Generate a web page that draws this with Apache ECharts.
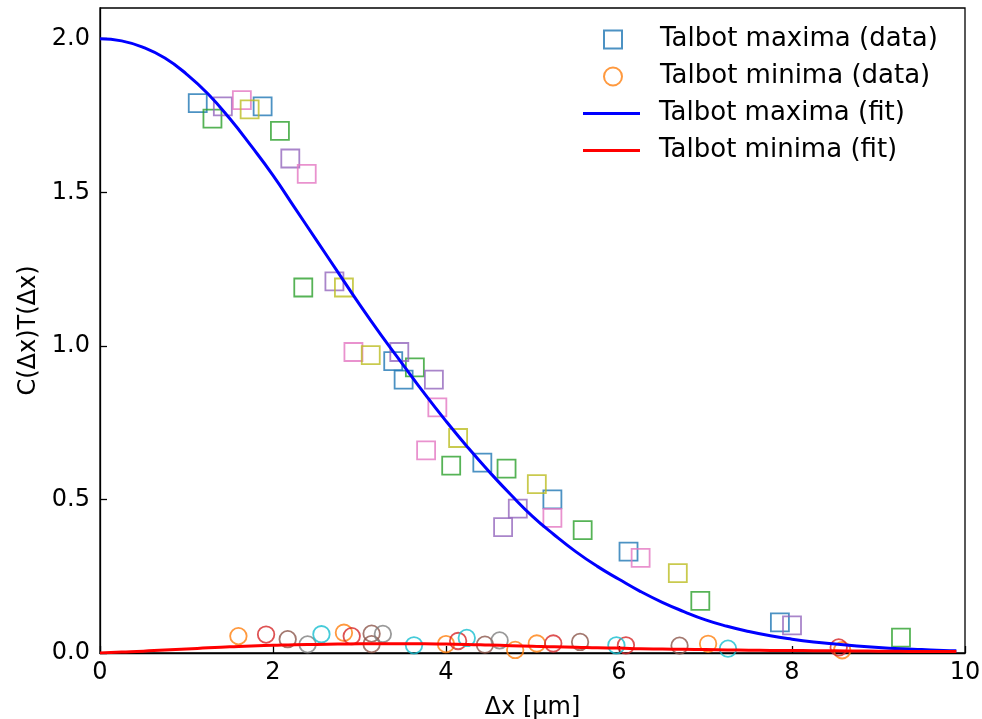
<!DOCTYPE html>
<html lang="en">

<head>
	<meta charset="UTF-8">
	<title>Talbot maxima / minima</title>
	<script src="https://cdn.jsdelivr.net/npm/echarts@6/dist/echarts.min.js"></script>
	<style>
		html, body { margin: 0; padding: 0; background: #fff; }
		#chart { width: 982px; height: 719px; }
	</style>
</head>

<body>
	<div id="chart"></div>
	<script>
		// measured points, one array per data set (x in um, y = C*T)
		var maxSet1 = [[1.13, 1.79], [1.88, 1.78], [3.39, 0.95], [3.51, 0.89], [4.42, 0.62], [5.23, 0.50], [6.11, 0.33], [7.86, 0.10]];
		var maxSet2 = [[1.30, 1.74], [2.08, 1.70], [2.35, 1.19], [3.64, 0.93], [4.06, 0.61], [4.70, 0.60], [5.58, 0.40], [6.94, 0.17], [9.26, 0.05]];
		var maxSet3 = [[1.42, 1.78], [2.20, 1.61], [2.71, 1.21], [3.46, 0.98], [3.86, 0.89], [4.83, 0.47], [4.66, 0.41], [8.00, 0.09]];
		var maxSet4 = [[1.64, 1.80], [2.39, 1.56], [2.93, 0.98], [3.90, 0.80], [3.77, 0.66], [5.23, 0.44], [6.25, 0.31]];
		var maxSet5 = [[1.73, 1.77], [2.82, 1.19], [3.13, 0.97], [4.14, 0.70], [5.05, 0.55], [6.68, 0.26]];

		var minSet1 = [[1.60, 0.055], [2.82, 0.066], [4.00, 0.029], [4.80, 0.010], [5.05, 0.031], [7.03, 0.030], [8.58, 0.009]];
		var minSet2 = [[1.92, 0.060], [2.91, 0.055], [4.14, 0.039], [5.24, 0.031], [6.08, 0.025], [8.54, 0.018]];
		var minSet3 = [[2.17, 0.045], [3.14, 0.063], [3.14, 0.029], [4.45, 0.027], [5.55, 0.036], [6.70, 0.024]];
		var minSet4 = [[2.40, 0.028], [3.27, 0.062], [3.45, -0.008], [4.62, 0.041]];
		var minSet5 = [[2.56, 0.061], [3.63, 0.025], [4.24, 0.049], [5.97, 0.025], [7.26, 0.014]];

		// fit curves
		var fitX = [0, 0.25, 0.5, 0.75, 1, 1.25, 1.5, 1.75, 2, 2.25, 2.5, 2.75, 3, 3.25, 3.5, 3.75, 4, 4.25, 4.5, 4.75,
			5, 5.25, 5.5, 5.75, 6, 6.25, 6.5, 6.75, 7, 7.25, 7.5, 7.75, 8, 8.25, 8.5, 8.75, 9, 9.25, 9.5, 9.75, 9.9];
		var fitMaxY = [2.0, 1.993, 1.972, 1.937, 1.885, 1.82, 1.74, 1.65, 1.555, 1.45, 1.345, 1.24, 1.135, 1.035, 0.94, 0.845,
			0.755, 0.67, 0.59, 0.515, 0.445, 0.385, 0.33, 0.282, 0.24, 0.2, 0.165, 0.135, 0.108, 0.087, 0.07, 0.056,
			0.045, 0.036, 0.029, 0.023, 0.018, 0.014, 0.011, 0.008, 0.007];
		var fitMinY = [0, 0.003, 0.006, 0.010, 0.013, 0.017, 0.020, 0.023, 0.025, 0.027, 0.028, 0.029, 0.030, 0.030, 0.030, 0.030,
			0.029, 0.028, 0.026, 0.024, 0.022, 0.020, 0.019, 0.017, 0.016, 0.014, 0.013, 0.012, 0.011, 0.010, 0.009, 0.0085,
			0.008, 0.0075, 0.007, 0.0065, 0.006, 0.0055, 0.005, 0.005, 0.005];

		var xTicks = [0, 2, 4, 6, 8, 10];

		var maxColors = ['#1f77b4', '#2ca02c', '#9467bd', '#e377c2', '#bcbd22'];
		var minColors = ['#ff7f0e', '#d62728', '#8c564b', '#7f7f7f', '#17becf'];

		var maxSets = [maxSet1, maxSet2, maxSet3, maxSet4, maxSet5];
		var minSets = [minSet1, minSet2, minSet3, minSet4, minSet5];

		var font = 'DejaVu Sans';

		function zip(xs, ys) {
			return xs.map(function (x, i) { return [x, ys[i]]; });
		}

		var series = [];
		for (var i = 0; i < 5; i++) {
			series.push({
				name: i === 0 ? 'Talbot maxima (data)' : 'max ' + (i + 1),
				type: 'scatter',
				symbol: 'rect',
				symbolSize: 18,
				z: 2,
				data: maxSets[i],
				itemStyle: { color: 'rgba(0,0,0,0)', borderColor: maxColors[i], borderWidth: 1.8 }
			});
			series.push({
				name: i === 0 ? 'Talbot minima (data)' : 'min ' + (i + 1),
				type: 'scatter',
				symbol: 'circle',
				symbolSize: 16.5,
				z: 2,
				data: minSets[i],
				itemStyle: { color: 'rgba(0,0,0,0)', borderColor: minColors[i], borderWidth: 1.8 }
			});
		}
		series.push({
			name: 'Talbot maxima (fit)',
			type: 'line',
			symbol: 'none',
			smooth: true,
			z: 4,
			data: zip(fitX, fitMaxY),
			lineStyle: { color: '#0000ff', width: 3 },
			itemStyle: { color: '#0000ff' }
		});
		series.push({
			name: 'Talbot minima (fit)',
			type: 'line',
			symbol: 'none',
			smooth: true,
			z: 4,
			data: zip(fitX, fitMinY),
			lineStyle: { color: '#ff0000', width: 3 },
			itemStyle: { color: '#ff0000' }
		});

		var legendText = { fontFamily: font, fontSize: 26, color: '#000', lineHeight: 37 };

		var option = {
			animation: false,
			backgroundColor: '#fff',
			grid: {
				left: 100, right: 17, top: 8, bottom: 66,
				outerBoundsMode: 'none', containLabel: false,
				show: true, borderColor: '#000', borderWidth: 1.3, backgroundColor: 'transparent'
			},
			legend: [{
				data: ['Talbot maxima (data)', 'Talbot minima (data)'],
				orient: 'vertical',
				left: 603, top: 21,
				padding: 0, itemGap: 0,
				itemWidth: 18, itemHeight: 18,
				selectedMode: false,
				textStyle: Object.assign({ padding: [0, 0, 0, 33] }, legendText)
			}, {
				// thin rect icon: the small marker hides inside the line
				data: ['Talbot maxima (fit)', 'Talbot minima (fit)'],
				orient: 'vertical',
				left: 583, top: 95,
				padding: 0, itemGap: 0,
				itemWidth: 57, itemHeight: 3,
				icon: 'rect',
				selectedMode: false,
				textStyle: Object.assign({ padding: [0, 0, 0, 14] }, legendText)
			}],
			xAxis: {
				type: 'value',
				min: 0, max: 10, interval: 2,
				name: 'Δx [μm]',
				nameLocation: 'middle',
				nameGap: 43,
				nameTextStyle: { fontFamily: font, fontSize: 24, color: '#000' },
				axisLine: { show: true, lineStyle: { color: '#000', width: 1.3 } },
				axisTick: { show: true, inside: true, length: 7, lineStyle: { color: '#000', width: 1.3 } },
				axisLabel: {
					margin: 8, fontFamily: font, fontSize: 24, color: '#000',
					customValues: xTicks
				},
				splitLine: { show: false }
			},
			yAxis: {
				type: 'value',
				min: 0, max: 2.1, interval: 0.5,
				name: 'C(Δx)T(Δx)',
				nameLocation: 'middle',
				nameGap: 58,
				nameTextStyle: { fontFamily: font, fontSize: 24, color: '#000' },
				axisLine: { show: true, lineStyle: { color: '#000', width: 1.3 } },
				axisTick: { show: true, inside: true, length: 7, lineStyle: { color: '#000', width: 1.3 } },
				axisLabel: {
					margin: 10, fontFamily: font, fontSize: 24, color: '#000',
					showMaxLabel: false,
					formatter: function (v) { return v.toFixed(1); }
				},
				splitLine: { show: false }
			},
			series: series
		};

		var myChart = echarts.init(document.getElementById('chart'));
		myChart.setOption(option);
	</script>
</body>

</html>
